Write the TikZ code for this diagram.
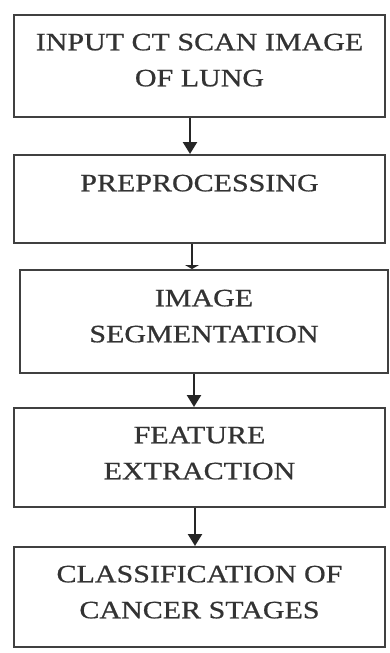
\documentclass[tikz,border=0pt]{standalone}
\usepackage{fontspec}
\setmainfont{Liberation Serif}[FakeStretch=1.2,UprightFeatures={FakeBold=0.7}]
\usepackage{tikz}
\usetikzlibrary{arrows.meta}
\tikzstyle{arrow} = [line width=2.4pt,draw=black!85,-{Triangle[width=14pt,length=12pt]}]
\tikzstyle{stage} = [draw=black!75, line width=2pt, align=center, text=black!80,
    font=\fontsize{25}{36}\selectfont, minimum width=371pt, text depth=10pt]

\begin{document}
\begin{tikzpicture}[x=1pt,y=1pt]
        \useasboundingbox (0,0) rectangle (390,-653);
        \node (input)[stage,
            minimum height=102pt, text depth=12pt] at (199.5,-66) {INPUT CT SCAN IMAGE\\OF LUNG};
        \node (prep)[stage,
            minimum height=88pt, text depth=32pt] at (199.5,-199) {PREPROCESSING};
        \node (seg)[stage,
            minimum width=368pt,
            minimum height=103pt, text depth=11pt] at (204,-321.5) {IMAGE\\SEGMENTATION};
        \node (feat)[stage,
            minimum height=99pt, text depth=9pt] at (199.5,-457.5) {FEATURE\\EXTRACTION};
        \node (class)[stage,
            minimum height=100pt] at (199.5,-597) {CLASSIFICATION OF\\CANCER STAGES};
        \draw [arrow] ([xshift=-9.5]input.south) -- ([xshift=-9.5]prep.north);
        \draw [arrow, -{Triangle[width=14pt,length=4pt]}] ([xshift=-7.5]prep.south) -- ([xshift=-12]seg.north);
        \draw [arrow] ([xshift=-10]seg.south) -- ([xshift=-5.5]feat.north);
        \draw [arrow] ([xshift=-4.5]feat.south) -- ([xshift=-4.5]class.north);
    \end{tikzpicture}
\end{document}
